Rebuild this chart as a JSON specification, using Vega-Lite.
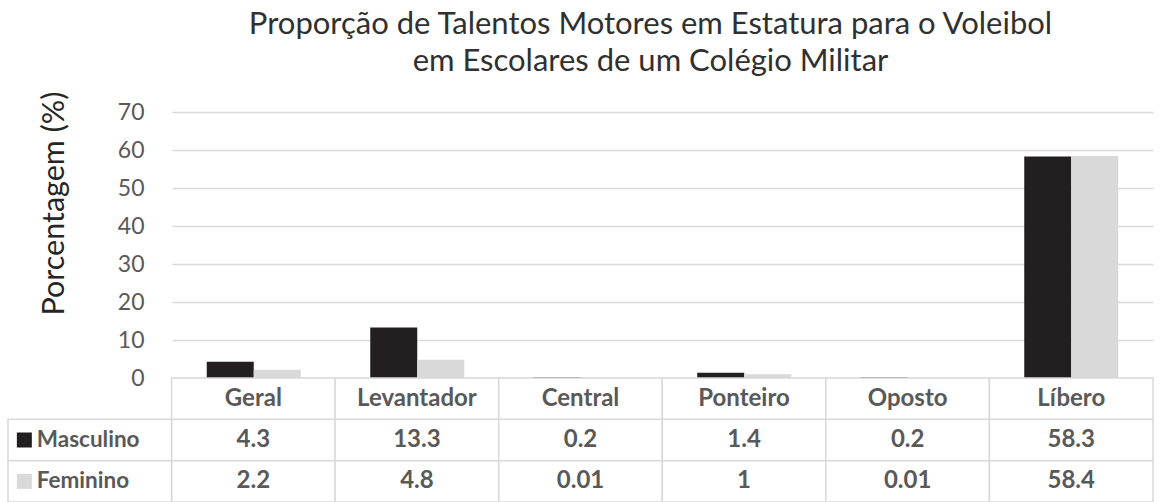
{
  "$schema": "https://vega.github.io/schema/vega-lite/v6.json",
  "padding": {"left": 7, "right": 17, "top": 9, "bottom": 0},
  "background": "white",
  "config": {"view": {"stroke": null}, "font": "Lato"},
  "datasets": {
    "barras": [
      {"categoria": "Geral", "serie": "Masculino", "valor": 4.3},
      {"categoria": "Geral", "serie": "Feminino", "valor": 2.2},
      {"categoria": "Levantador", "serie": "Masculino", "valor": 13.3},
      {"categoria": "Levantador", "serie": "Feminino", "valor": 4.8},
      {"categoria": "Central", "serie": "Masculino", "valor": 0.2},
      {"categoria": "Central", "serie": "Feminino", "valor": 0.01},
      {"categoria": "Ponteiro", "serie": "Masculino", "valor": 1.4},
      {"categoria": "Ponteiro", "serie": "Feminino", "valor": 1},
      {"categoria": "Oposto", "serie": "Masculino", "valor": 0.2},
      {"categoria": "Oposto", "serie": "Feminino", "valor": 0.01},
      {"categoria": "Líbero", "serie": "Masculino", "valor": 58.3},
      {"categoria": "Líbero", "serie": "Feminino", "valor": 58.4}
    ]
  },
  "spacing": 0,
  "bounds": "flush",
  "resolve": {"scale": {"x": "independent", "y": "independent", "color": "independent"}},
  "vconcat": [
    {
      "width": 981,
      "height": 266,
      "title": {
        "text": ["Proporção de Talentos Motores em Estatura para o Voleibol", "em Escolares de um Colégio Militar"],
        "anchor": "middle",
        "frame": "group",
        "fontSize": 31,
        "lineHeight": 37,
        "fontWeight": "normal",
        "font": "Lato",
        "color": "#303030",
        "offset": 13,
        "dx": -12
      },
      "data": {"name": "barras"},
      "mark": {"type": "bar"},
      "encoding": {
        "x": {
          "field": "categoria",
          "type": "nominal",
          "sort": ["Geral", "Levantador", "Central", "Ponteiro", "Oposto", "Líbero"],
          "scale": {"paddingInner": 0.425, "paddingOuter": 0.2125},
          "axis": {"labels": false, "ticks": false, "title": null, "domain": true, "domainColor": "#d9d9d9", "domainWidth": 1.5}
        },
        "xOffset": {
          "field": "serie",
          "type": "nominal",
          "sort": ["Masculino", "Feminino"],
          "scale": {"paddingInner": 0, "paddingOuter": 0}
        },
        "y": {
          "field": "valor",
          "type": "quantitative",
          "scale": {"domain": [0, 70], "nice": false},
          "axis": {
            "values": [0, 10, 20, 30, 40, 50, 60, 70],
            "domain": false,
            "ticks": false,
            "grid": true,
            "gridColor": "#d9d9d9",
            "gridWidth": 1.5,
            "labelFontSize": 23,
            "labelColor": "#595959",
            "labelFont": "Lato",
            "labelPadding": 28,
            "title": "Porcentagem (%)",
            "titleFont": "Lato",
            "titleFontSize": 30.5,
            "titleFontWeight": "normal",
            "titleColor": "#262626",
            "titleAngle": -90,
            "titleAlign": "center",
            "titleBaseline": "middle",
            "titleX": -118,
            "titleY": 91
          }
        },
        "color": {
          "field": "serie",
          "type": "nominal",
          "scale": {"domain": ["Masculino", "Feminino"], "range": ["#231f20", "#d9d9d9"]},
          "legend": null
        }
      }
    },
    {
      "width": 981,
      "height": 124,
      "data": {"name": "barras"},
      "encoding": {
        "x": {
          "field": "categoria",
          "type": "nominal",
          "scale": {
            "domain": ["Série", "Geral", "Levantador", "Central", "Ponteiro", "Oposto", "Líbero"],
            "range": [-164, 981],
            "paddingInner": 0,
            "paddingOuter": 0
          },
          "axis": null
        },
        "y": {
          "field": "serie",
          "type": "nominal",
          "scale": {"domain": ["Categoria", "Masculino", "Feminino"], "paddingInner": 0, "paddingOuter": 0},
          "axis": null
        }
      },
      "layer": [
        {
          "mark": {"type": "rect", "fill": "white", "stroke": "#d9d9d9", "strokeWidth": 1.5}
        },
        {
          "transform": [{"aggregate": [{"op": "count", "as": "n"}], "groupby": ["categoria"]}],
          "mark": {"type": "rect", "fill": "white", "stroke": "#d9d9d9", "strokeWidth": 1.5},
          "encoding": {"y": {"datum": "Categoria"}}
        },
        {
          "transform": [{"aggregate": [{"op": "count", "as": "n"}], "groupby": ["serie"]}],
          "mark": {"type": "rect", "fill": "white", "stroke": "#d9d9d9", "strokeWidth": 1.5},
          "encoding": {"x": {"datum": "Série"}}
        },
        {
          "mark": {"type": "text", "font": "Lato", "fontSize": 24, "fontWeight": "bold", "color": "#595959", "align": "center", "baseline": "middle"},
          "encoding": {"text": {"field": "valor", "type": "quantitative", "format": "~g"}}
        },
        {
          "transform": [{"aggregate": [{"op": "count", "as": "n"}], "groupby": ["categoria"]}],
          "mark": {"type": "text", "font": "Lato", "fontSize": 24, "fontWeight": "bold", "color": "#595959", "align": "center", "baseline": "middle"},
          "encoding": {"y": {"datum": "Categoria"}, "text": {"field": "categoria", "type": "nominal"}}
        },
        {
          "transform": [{"aggregate": [{"op": "count", "as": "n"}], "groupby": ["serie"]}],
          "mark": {"type": "text", "font": "Lato", "fontSize": 22.5, "fontWeight": "bold", "color": "#595959", "align": "left", "baseline": "middle", "dx": -53},
          "encoding": {"x": {"datum": "Série"}, "text": {"field": "serie", "type": "nominal"}}
        },
        {
          "transform": [{"aggregate": [{"op": "count", "as": "n"}], "groupby": ["serie"]}],
          "mark": {"type": "point", "shape": "square", "filled": true, "size": 225, "opacity": 1},
          "encoding": {
            "x": {"datum": "Série", "bandPosition": 0.1},
            "color": {
              "field": "serie",
              "type": "nominal",
              "scale": {"domain": ["Masculino", "Feminino"], "range": ["#231f20", "#d9d9d9"]},
              "legend": null
            }
          }
        }
      ]
    }
  ]
}
